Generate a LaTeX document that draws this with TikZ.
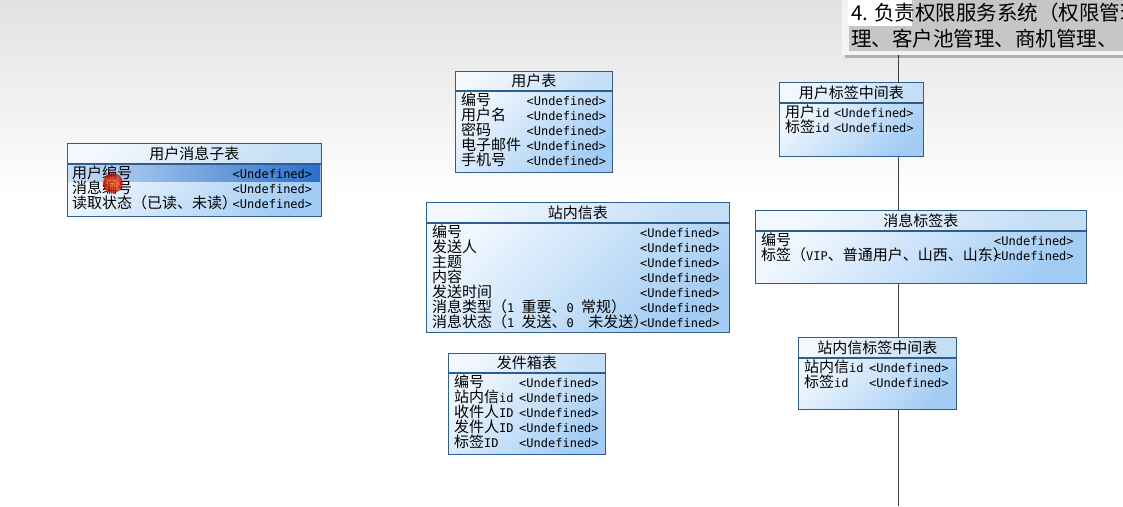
\documentclass[tikz,border=0pt]{standalone}
\usepackage{fontspec}
\newfontfamily\cjk{Noto Sans CJK SC}
\newfontfamily\mono{DejaVu Sans Mono}
\usepackage{xcolor}
\usepackage{tikz}
\usetikzlibrary{positioning, calc}

\definecolor{tblborder}{HTML}{2E5E8E}
\definecolor{hdrlight}{HTML}{F2F8FE}
\definecolor{hdrblue}{HTML}{C4DEF6}
\definecolor{bdylight}{HTML}{EEF6FE}
\definecolor{bdyblue}{HTML}{A3CCF4}
\definecolor{selleft}{HTML}{C9DFF6}
\definecolor{selblue}{HTML}{2A6FCB}
\definecolor{bgtop}{HTML}{E2E2E2}
\definecolor{tipbg}{HTML}{F3F3F3}
\definecolor{tipmark}{HTML}{C6C6C6}

\newcommand{\cjkfont}{\cjk\fontsize{15}{15}\selectfont}
\newcommand{\halfw}[1]{{\mono\fontsize{12}{15}\selectfont #1}}
\newcommand{\undtxt}{<Undefined>}

\begin{document}
\begin{tikzpicture}[x=1pt, y=-1pt,
    tblhead/.style={draw=tblborder, line width=0.8pt, top color=hdrlight, bottom color=hdrblue, shading angle=45,
        anchor=north west, minimum height=20pt, inner sep=0pt, font=\cjkfont},
    tblbody/.style={draw=tblborder, line width=0.8pt, top color=bdylight, bottom color=bdyblue, shading angle=45,
        anchor=north west, inner sep=0pt},
    fld/.style={anchor=base west, inner sep=0pt, font=\cjkfont},
    val/.style={anchor=base west, inner sep=0pt, font=\mono\fontsize{12}{15}\selectfont},
    linkline/.style={draw=black!75, line width=0.9pt},
    tiptext/.style={anchor=base west, inner sep=0pt, font=\cjk\fontsize{20.5}{27}\selectfont}]
    \useasboundingbox (0,0) rectangle (1123,506);
    % 背景
    \fill[white] (0,0) rectangle (1123,506);
    \fill[top color=bgtop, bottom color=white] (0,0) rectangle (1123,200);

    % 标签表之间的竖线
    \coordinate (linetop) at (898,55);
    \coordinate (linebot) at (898,506);
    \draw[linkline] (linetop) -- (linebot);

    % 用户消息子表
    \node[tblhead, minimum width=254pt] (msgsubH) at (67,143) {用户消息子表};
    \node[tblbody, minimum width=254pt, minimum height=52pt] (msgsubB) at (msgsubH.south west) {};
    \node[left color=selleft, right color=selblue, anchor=north west, minimum width=252pt, minimum height=16pt, inner sep=0pt] (msgsubSel) at (68,165) {};
    \foreach \f [count=\i] in {用户编号, 消息编号, 读取状态（已读、未读）} {
        \node[fld] (msgsubF\i) at (72,163.5+15*\i) {\f};
        \node[val] (msgsubV\i) at (232.5,163.5+15*\i) {\undtxt};
    }
    \node[circle, minimum size=20pt, inner color=orange!80!red, outer color=red!80!black, opacity=0.75] (cursor) at (113,183) {};

    % 用户表
    \node[tblhead, minimum width=157pt, minimum height=19pt] (userH) at (455,71) {用户表};
    \node[tblbody, minimum width=157pt, minimum height=81pt] (userB) at (userH.south west) {};
    \foreach \f [count=\i] in {编号, 用户名, 密码, 电子邮件, 手机号} {
        \node[fld] (userF\i) at (461,90.5+15*\i) {\f};
        \node[val] (userV\i) at (526.5,90.5+15*\i) {\undtxt};
    }

    % 站内信表
    \node[tblhead, minimum width=303pt] (mailH) at (426,202) {站内信表};
    \node[tblbody, minimum width=303pt, minimum height=109pt] (mailB) at (mailH.south west) {};
    \foreach \f [count=\i] in {编号, 发送人, 主题, 内容, 发送时间,
        消息类型（\halfw{1~}重要、\halfw{0~}常规）, 消息状态（\halfw{1~}发送、\halfw{0~~}未发送）} {
        \node[fld] (mailF\i) at (432,222+15*\i) {\f};
        \node[val] (mailV\i) at (640,222+15*\i) {\undtxt};
    }

    % 发件箱表
    \node[tblhead, minimum width=157pt, minimum height=19pt] (outboxH) at (448,353) {发件箱表};
    \node[tblbody, minimum width=157pt, minimum height=81pt] (outboxB) at (outboxH.south west) {};
    \foreach \f [count=\i] in {编号, 站内信\halfw{id}, 收件人\halfw{ID}, 发件人\halfw{ID}, 标签\halfw{ID}} {
        \node[fld] (outboxF\i) at (454,372.5+15*\i) {\f};
        \node[val] (outboxV\i) at (519,372.5+15*\i) {\undtxt};
    }

    % 用户标签中间表
    \node[tblhead, minimum width=144pt] (usertagH) at (779,82) {用户标签中间表};
    \node[tblbody, minimum width=144pt, minimum height=53pt] (usertagB) at (usertagH.south west) {};
    \foreach \f [count=\i] in {用户\halfw{id}, 标签\halfw{id}} {
        \node[fld] (usertagF\i) at (785,102.5+15*\i) {\f};
        \node[val] (usertagV\i) at (834,102.5+15*\i) {\undtxt};
    }

    % 消息标签表
    \node[tblhead, minimum width=331pt] (msgtagH) at (755,210) {消息标签表};
    \node[tblbody, minimum width=331pt, minimum height=52pt] (msgtagB) at (msgtagH.south west) {};
    \foreach \f [count=\i] in {编号, 标签（\halfw{VIP}、普通用户、山西、山东） } {
        \node[fld] (msgtagF\i) at (761,230.5+15*\i) {\f};
        \node[val] (msgtagV\i) at (994,230.5+15*\i) {\undtxt};
    }

    % 站内信标签中间表
    \node[tblhead, minimum width=158pt] (mailtagH) at (798,337) {站内信标签中间表};
    \node[tblbody, minimum width=158pt, minimum height=51pt] (mailtagB) at (mailtagH.south west) {};
    \foreach \f [count=\i] in {站内信\halfw{id}, 标签\halfw{id}} {
        \node[fld] (mailtagF\i) at (804,357.5+15*\i) {\f};
        \node[val] (mailtagV\i) at (869,357.5+15*\i) {\undtxt};
    }

    % 右上角提示框
    \begin{scope}
        \clip (0,0) rectangle (1123,506);
        \fill[black, opacity=0.25] (845,0) rectangle (1123,58);
        \fill[tipbg] (842,0) rectangle (1123,55);
        \fill[white] (848,0) rectangle (912,26);
        \fill[tipmark] (912,0) rectangle (1123,26);
        \fill[tipmark] (849,26) rectangle (1123,51);
        \node[tiptext] (tipL1) at (851,20) {4. 负责权限服务系统（权限管理};
        \node[tiptext] (tipL2) at (851,46) {理、客户池管理、商机管理、};
    \end{scope}
\end{tikzpicture}
\end{document}
